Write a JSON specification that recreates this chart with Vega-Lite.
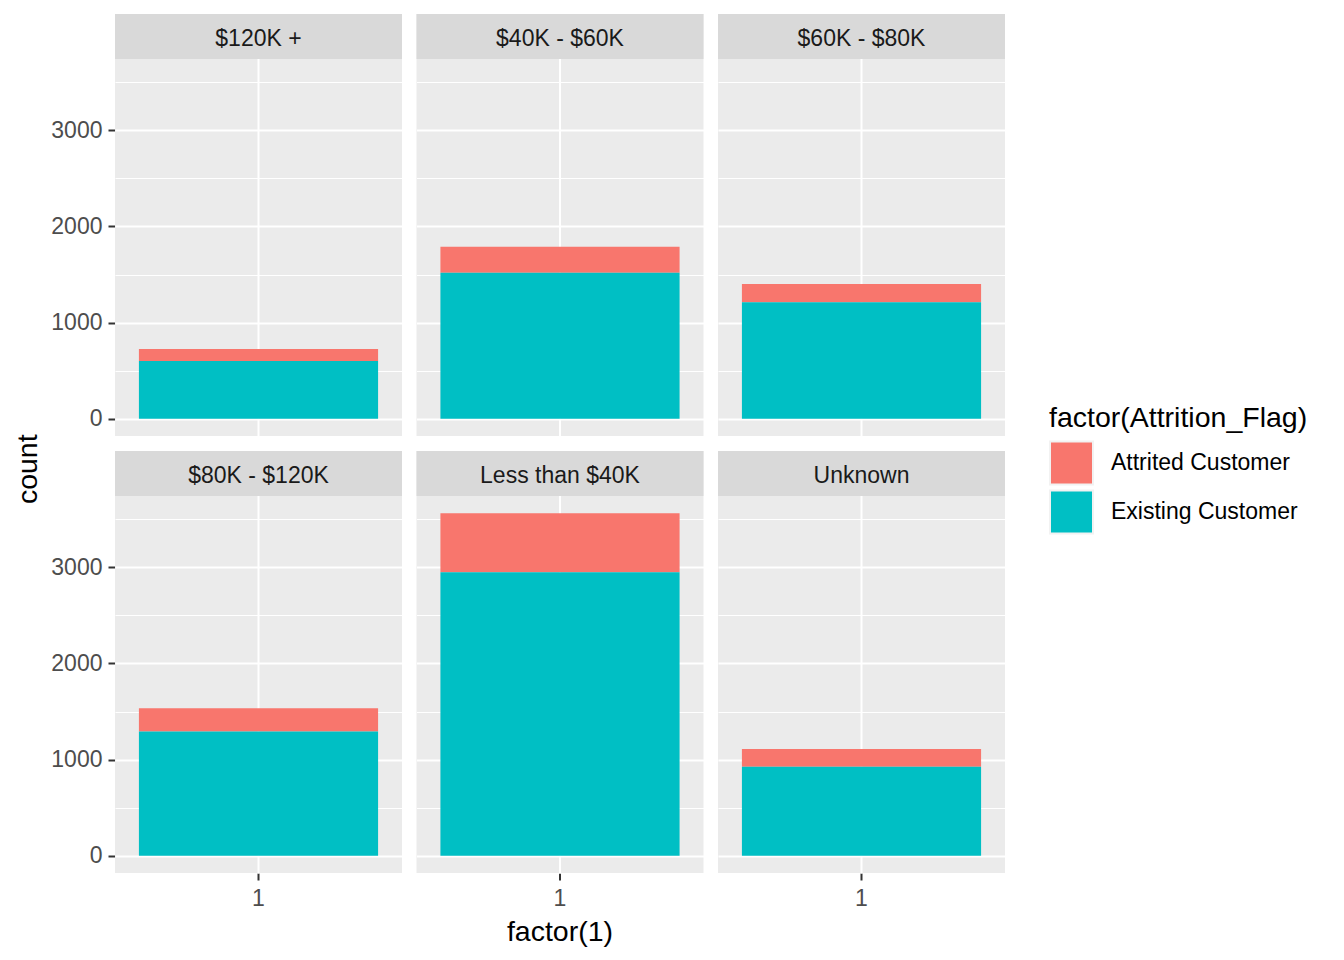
{
  "$schema": "https://vega.github.io/schema/vega-lite/v6.json",
  "background": "white",
  "padding": {"left": 14, "top": 14, "right": 5, "bottom": 2},
  "title": {"text": "count", "orient": "left", "anchor": "middle", "fontSize": 28.5, "fontWeight": "normal", "color": "#000000", "offset": 8, "dx": 11},
  "data": {
    "values": [
      {"income": "$120K +", "flag": "Attrited Customer", "one": "1", "count": 126},
      {"income": "$120K +", "flag": "Existing Customer", "one": "1", "count": 601},
      {"income": "$40K - $60K", "flag": "Attrited Customer", "one": "1", "count": 271},
      {"income": "$40K - $60K", "flag": "Existing Customer", "one": "1", "count": 1519},
      {"income": "$60K - $80K", "flag": "Attrited Customer", "one": "1", "count": 189},
      {"income": "$60K - $80K", "flag": "Existing Customer", "one": "1", "count": 1213},
      {"income": "$80K - $120K", "flag": "Attrited Customer", "one": "1", "count": 242},
      {"income": "$80K - $120K", "flag": "Existing Customer", "one": "1", "count": 1293},
      {"income": "Less than $40K", "flag": "Attrited Customer", "one": "1", "count": 612},
      {"income": "Less than $40K", "flag": "Existing Customer", "one": "1", "count": 2949},
      {"income": "Unknown", "flag": "Attrited Customer", "one": "1", "count": 187},
      {"income": "Unknown", "flag": "Existing Customer", "one": "1", "count": 925}
    ]
  },
  "facet": {
    "field": "income", "type": "nominal",
    "header": {"labels": false, "labelExpr": "''", "labelFontSize": 0, "labelPadding": 0, "title": "factor(1)", "titleOrient": "bottom", "titleFontSize": 28.5, "titleFontWeight": "normal", "titleColor": "#000000", "titlePadding": 8}
  },
  "columns": 3,
  "spacing": {"row": 15, "column": 14.5},
  "spec": {
    "width": 287,
    "height": 422,
    "layer": [
      {
        "mark": {"type": "bar"},
        "encoding": {
          "x": {
            "field": "one", "type": "nominal",
            "scale": {"paddingInner": 0, "paddingOuter": 0.1},
            "axis": {
              "title": null,
              "labelAngle": 0, "labelFontSize": 23, "labelColor": "#4D4D4D", "labelPadding": 7,
              "bandPosition": 0.5, "grid": true, "gridColor": "#FFFFFF", "gridWidth": 2,
              "ticks": true, "tickSize": 7, "tickColor": "#333333", "tickWidth": 2,
              "domain": false
            }
          },
          "y": {
            "field": "count", "type": "quantitative", "stack": "zero",
            "scale": {"domain": [-178, 4208], "nice": false, "zero": false},
            "axis": {
              "title": null,
              "values": [0, 500, 1000, 1500, 2000, 2500, 3000, 3500],
              "format": "d",
              "labelExpr": "datum.value % 1000 === 0 ? datum.label : ''",
              "labelFontSize": 23, "labelColor": "#4D4D4D", "labelPadding": 6,
              "grid": true, "gridColor": "#FFFFFF",
              "gridWidth": {"condition": {"test": "datum.value % 1000 === 0", "value": 2}, "value": 1},
              "tickSize": 7, "tickColor": "#333333", "tickWidth": 2,
              "tickOpacity": {"condition": {"test": "datum.value % 1000 === 0", "value": 1}, "value": 0},
              "domain": false
            }
          },
          "color": {
            "field": "flag", "type": "nominal",
            "scale": {"domain": ["Attrited Customer", "Existing Customer"], "range": ["#F8766D", "#00BFC4"]},
            "legend": {
              "title": "factor(Attrition_Flag)", "titleFontSize": 28.5, "titleFontWeight": "normal", "titleColor": "#000000", "titleLimit": 400,
              "labelFontSize": 23, "labelColor": "#000000", "labelLimit": 400, "symbolType": "square", "symbolSize": 1849,
              "symbolStrokeColor": "#F2F2F2", "symbolStrokeWidth": 2, "symbolOpacity": 1,
              "rowPadding": -2, "labelOffset": 17, "titlePadding": 8,
              "orient": "none", "legendX": 934, "legendY": 390
            }
          },
          "order": {"field": "flag", "sort": "descending"}
        }
      },
      {
        "transform": [{"filter": "datum.flag === 'Existing Customer'"}],
        "mark": {"type": "rect", "color": "#D9D9D9"},
        "encoding": {
          "y": {"datum": 3739, "type": "quantitative"},
          "y2": {"datum": 4208}
        }
      },
      {
        "transform": [{"filter": "datum.flag === 'Existing Customer'"}],
        "mark": {"type": "text", "fontSize": 23, "color": "#1A1A1A", "baseline": "middle", "align": "center"},
        "encoding": {
          "x": {"field": "one", "type": "nominal"},
          "y": {"datum": 3950, "type": "quantitative"},
          "text": {"field": "income"}
        }
      }
    ]
  },
  "config": {
    "font": "Liberation Sans",
    "view": {"fill": "#EBEBEB", "stroke": null},
    "axis": {"labelFont": "Liberation Sans", "titleFont": "Liberation Sans"}
  }
}
